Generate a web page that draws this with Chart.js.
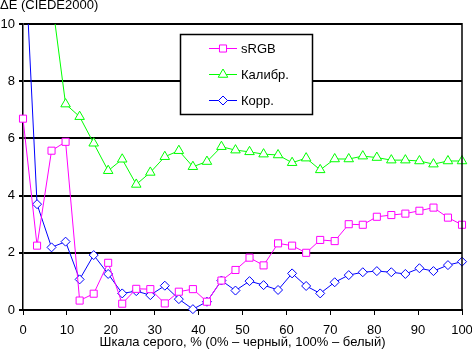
<!DOCTYPE html>
<html>
<head>
<meta charset="utf-8">
<script src="https://cdn.jsdelivr.net/npm/chart.js@4/dist/chart.umd.min.js"></script>
<style>
html,body{margin:0;padding:0;background:#fff;}
#wrap{position:relative;width:472px;height:353px;}
canvas{display:block;}
</style>
</head>
<body>
<div id="wrap"><canvas id="c" width="472" height="353"></canvas></div>
<script>
// Gray level categories (% of scale)
const grey = [0, 3.2, 6.5, 9.7, 12.9, 16.1, 19.4, 22.6, 25.8, 29.0, 32.3, 35.5, 38.7, 41.9, 45.2, 48.4,
              51.6, 54.8, 58.1, 61.3, 64.5, 67.7, 71.0, 74.2, 77.4, 80.6, 83.9, 87.1, 90.3, 93.5, 96.8, 100];
// Series values (ΔE CIEDE2000)
const srgb = [6.69, 2.25, 5.57, 5.88, 0.33, 0.57, 1.65, 0.22, 0.74, 0.73, 0.23, 0.64, 0.73, 0.29, 1.03, 1.40,
              1.83, 1.56, 2.33, 2.25, 2.00, 2.45, 2.41, 3.00, 2.98, 3.26, 3.32, 3.37, 3.47, 3.58, 3.23, 2.98];
const calib = [null, null, 10.96, 7.20, 6.76, 5.83, 4.87, 5.27, 4.39, 4.81, 5.36, 5.57, 5.01, 5.19, 5.71, 5.59,
               5.53, 5.45, 5.42, 5.15, 5.31, 4.90, 5.28, 5.28, 5.38, 5.33, 5.24, 5.24, 5.21, 5.10, 5.21, 5.21];
const corr = [13.8, 3.70, 2.19, 2.39, 1.07, 1.92, 1.26, 0.58, 0.66, 0.52, 0.85, 0.38, 0.03, 0.29, 1.03, 0.68,
              1.01, 0.87, 0.70, 1.28, 0.84, 0.58, 0.97, 1.22, 1.32, 1.36, 1.32, 1.26, 1.46, 1.36, 1.57, 1.69];
const seriesLabels = ['sRGB', 'Калибр.', 'Корр.'];
const yTitle = 'ΔE (CIEDE2000)';
const xTitle = 'Шкала серого, % (0% – черный, 100% – белый)';

const FONT = '"Liberation Sans", Arial, sans-serif';
Chart.defaults.font.family = FONT;
Chart.defaults.font.size = 13;
Chart.defaults.color = '#000';

const toXY = arr => grey.map((x, i) => ({x: x, y: arr[i]}));

function mkDs(label, arr, color, style, r) {
  return {
    label: label, data: toXY(arr), borderColor: color, backgroundColor: '#fff',
    borderWidth: 1, pointStyle: style, pointRadius: r, pointBorderWidth: 1,
    pointBackgroundColor: '#fff', pointBorderColor: color, showLine: true,
    tension: 0, spanGaps: false, clip: {left: 8, right: 8, top: 0, bottom: 8}
  };
}

const decorPlugin = {
  id: 'decor',
  afterDraw(chart) {
    const ctx = chart.ctx, a = chart.chartArea;
    ctx.save();
    // right border of plot
    ctx.strokeStyle = '#000'; ctx.lineWidth = 1.5;
    ctx.beginPath(); ctx.moveTo(a.right, a.top - 1); ctx.lineTo(a.right, a.bottom); ctx.stroke();
    // top-left title
    ctx.fillStyle = '#000'; ctx.font = '13px ' + FONT;
    ctx.textBaseline = 'alphabetic'; ctx.textAlign = 'left';
    ctx.fillText(yTitle, 0, 9);
    // legend box
    const x0 = 180.5, y0 = 34.5, w = 132, h = 80;
    ctx.fillStyle = '#fff'; ctx.fillRect(x0, y0, w, h);
    ctx.strokeStyle = '#000'; ctx.lineWidth = 1.5; ctx.strokeRect(x0, y0, w, h);
    const rows = [48, 74, 100];
    chart.data.datasets.forEach((ds, i) => {
      const y = rows[i];
      ctx.strokeStyle = ds.borderColor; ctx.lineWidth = 1;
      ctx.beginPath(); ctx.moveTo(209, y + 0.5); ctx.lineTo(237, y + 0.5); ctx.stroke();
      ctx.fillStyle = '#fff';
      if (Chart.helpers && Chart.helpers.drawPoint) {
        Chart.helpers.drawPoint(ctx, {pointStyle: ds.pointStyle, radius: ds.pointRadius, rotation: 0, borderWidth: 1}, 223, y + 0.5);
      }
      ctx.fillStyle = '#000'; ctx.font = '13px ' + FONT;
      ctx.textBaseline = 'middle'; ctx.textAlign = 'left';
      ctx.fillText(ds.label, 241, y + 1);
    });
    ctx.restore();
  }
};

new Chart(document.getElementById('c'), {
  type: 'line',
  data: {
    datasets: [
      mkDs(seriesLabels[0], srgb, '#ff00ff', 'rect', 5),
      mkDs(seriesLabels[1], calib, '#00ff00', 'triangle', 5.5),
      mkDs(seriesLabels[2], corr, '#0000ff', 'rectRot', 4.5)
    ]
  },
  options: {
    responsive: false, animation: false, devicePixelRatio: 1,
    layout: {padding: {top: 24, right: 10, left: 0, bottom: 0}},
    plugins: {legend: {display: false}, title: {display: false}, tooltip: {enabled: false}},
    elements: {line: {borderWidth: 1}},
    scales: {
      x: {
        type: 'linear', min: 0, max: 100,
        ticks: {stepSize: 10, color: '#000', padding: 8, maxRotation: 0, font: {size: 13}},
        grid: {drawOnChartArea: false, drawTicks: true, tickLength: 5, color: '#000', lineWidth: 1},
        border: {display: true, color: '#000', width: 2},
        title: {display: true, text: xTitle, color: '#000', font: {size: 13}, padding: {top: 0, bottom: 3}},
        afterFit: s => { s.height = 43; s.paddingLeft = 0; s.paddingRight = 0; }
      },
      y: {
        min: 0, max: 10,
        ticks: {stepSize: 2, color: '#000', padding: 4, font: {size: 13}},
        grid: {color: '#000', lineWidth: 2, tickLength: 4, drawTicks: true},
        border: {display: true, color: '#000', width: 1.5},
        afterFit: s => { s.width = 23; s.paddingTop = 0; s.paddingBottom = 0; }
      }
    }
  },
  plugins: [decorPlugin]
});
</script>
</body>
</html>
